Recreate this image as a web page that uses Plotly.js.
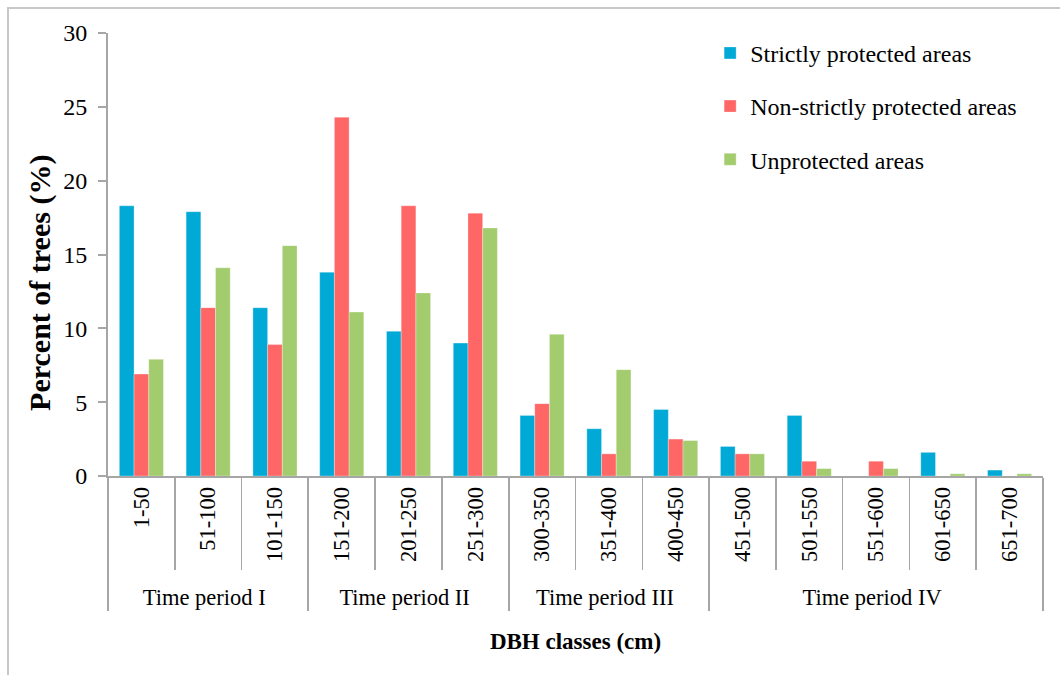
<!DOCTYPE html>
<html>
<head>
<meta charset="utf-8">
<script src="https://cdn.plot.ly/plotly-3.0.1.min.js"></script>
<style>
  html, body { margin: 0; padding: 0; background: #fff; }
  #frame { position: absolute; left: 7px; top: 7px; width: 1060px; height: 680px;
           border-left: 2px solid #c8c8c8; border-top: 2px solid #c8c8c8; }
  #chart { position: absolute; left: 0; top: 0; width: 1060px; height: 675px; }
</style>
</head>
<body>
<div id="frame"></div>
<div id="chart"></div>
<script>
const dbhClasses = ["1-50","51-100","101-150","151-200","201-250","251-300","300-350","351-400","400-450","451-500","501-550","551-600","601-650","651-700"];
const periods = ["Time period I","Time period I","Time period I","Time period II","Time period II","Time period II","Time period III","Time period III","Time period III","Time period IV","Time period IV","Time period IV","Time period IV","Time period IV"];
const strictlyProtected = [18.3, 17.9, 11.4, 13.8, 9.8, 9.0, 4.1, 3.2, 4.5, 2.0, 4.1, 0, 1.6, 0.4];
const nonStrictlyProtected = [6.9, 11.4, 8.9, 24.3, 18.3, 17.8, 4.9, 1.5, 2.5, 1.5, 1.0, 1.0, 0, 0];
const unprotected = [7.9, 14.1, 15.6, 11.1, 12.4, 16.8, 9.6, 7.2, 2.4, 1.5, 0.5, 0.5, 0.15, 0.15];
const seriesNames = ["Strictly protected areas", "Non-strictly protected areas", "Unprotected areas"];
const seriesColors = ["#00A9D6", "#FF6666", "#A3CC6E"];
const yTitle = "Percent of trees (%)";
const xTitle = "DBH classes (cm)";

const serif = "Liberation Serif, Times New Roman, serif";
const xCats = [periods, dbhClasses];
const allSeries = [strictlyProtected, nonStrictlyProtected, unprotected];

const traces = allSeries.map((vals, i) => ({
  type: "bar",
  name: seriesNames[i],
  x: xCats,
  y: vals,
  legendgroup: "g" + i,
  marker: { color: seriesColors[i], line: { color: "rgba(255,255,255,0.6)", width: 0.5 } }
}));

const layout = {
  width: 1060, height: 675,
  margin: { l: 108, r: 17, t: 33, b: 199 },
  paper_bgcolor: "rgba(0,0,0,0)",
  plot_bgcolor: "rgba(0,0,0,0)",
  barmode: "group",
  bargap: 0.34,
  bargroupgap: 0,
  font: { family: serif, color: "#000", size: 24 },
  showlegend: true,
  legend: {
    x: 0.644, y: 1.005, xanchor: "left", yanchor: "top",
    font: { family: serif, size: 24, color: "#000" },
    tracegroupgap: 19, itemwidth: 30, bgcolor: "rgba(0,0,0,0)"
  },
  xaxis: {
    type: "multicategory",
    tickangle: -90,
    tickfont: { family: serif, size: 22.5, color: "#000" },
    showline: true, linecolor: "#a6a6a6", linewidth: 2,
    ticks: "outside", tickson: "boundaries", ticklen: 92, tickcolor: "#a6a6a6", tickwidth: 1.5,
    showdividers: true, dividercolor: "#a6a6a6", dividerwidth: 2,
    showgrid: false, zeroline: false,
    title: { text: "<b>" + xTitle + "</b>", font: { family: serif, size: 23, color: "#000" }, standoff: 24 }
  },
  yaxis: {
    range: [0, 30], dtick: 5, tick0: 0,
    showline: true, linecolor: "#a6a6a6", linewidth: 2,
    ticks: "outside", ticklen: 8, tickcolor: "#a6a6a6", tickwidth: 2,
    ticklabelstandoff: 6,
    tickfont: { family: serif, size: 24, color: "#000" },
    showgrid: false, zeroline: false
  },
  annotations: [{
    text: "<b>" + yTitle + "</b>",
    xref: "paper", yref: "paper",
    x: -0.0727, y: 0.436,
    xanchor: "center", yanchor: "middle",
    textangle: -90, showarrow: false,
    font: { family: serif, size: 30, color: "#000" }
  }]
};

Plotly.newPlot("chart", traces, layout, { displayModeBar: false, staticPlot: true });
</script>
</body>
</html>
